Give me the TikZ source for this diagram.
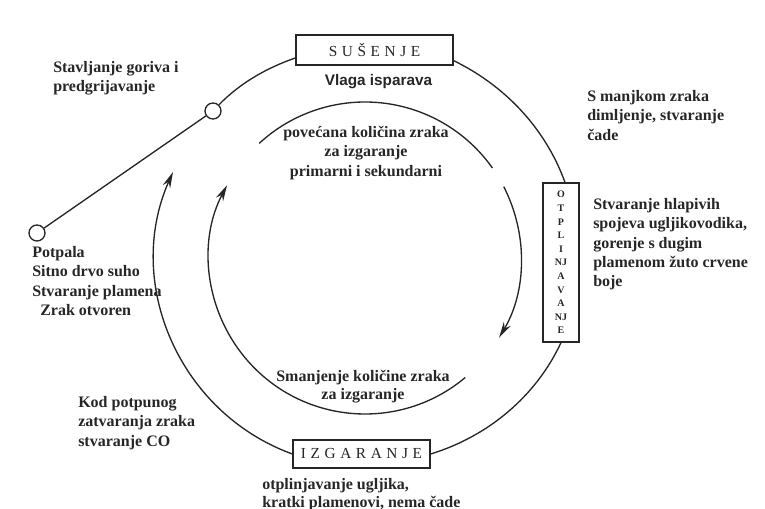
\documentclass[tikz,border=0pt]{standalone}
\usepackage{fontspec}
\setmainfont{Liberation Serif}
\setsansfont{Liberation Sans}
\newfontfamily\razmak[LetterSpace=30]{Liberation Serif}
\usetikzlibrary{arrows.meta}

\tikzset{
  crta/.style={line width=1pt, draw=black!85},
  strelica/.style={crta, -{Stealth[length=12pt,width=6pt]}},
  faza/.style={crta, inner sep=0pt, fill=white, text=black!85, font=\razmak\fontsize{11.5}{13}\selectfont},
  tocka/.style={crta, circle, fill=white, inner sep=0pt, minimum size=12pt},
  opis/.style={inner sep=0pt, anchor=north west, align=left, text=black!85,
    font=\bfseries\fontsize{12}{14.5}\selectfont},
}

\begin{document}
\begin{tikzpicture}[x=0.75pt,y=0.75pt]
\useasboundingbox (0,0) rectangle (765,509);

% centri krugova
\coordinate (c) at (365,251);
\coordinate (izlaz) at (173,337);

% Faze
\node[faza, minimum width=117.75pt, minimum height=22.5pt] (susenje) at (374.5,459) {SUŠENJE};
\node[faza, minimum width=102.75pt, minimum height=21pt] (izgaranje) at (361.5,55) {IZGARANJE};
\node[crta, draw, inner sep=0pt, minimum width=27pt, minimum height=119.25pt, align=center,
  text=black!85, font=\bfseries\fontsize{7.5}{10.2}\selectfont] (otplinjavanje) at (561,246.5)
  {O\\T\\P\\L\\I\\NJ\\A\\V\\A\\NJ\\E};

% Kruzici
\node[tocka] (potpala) at (37,276) {};
\node[tocka] (gorivo) at (213,398) {};

%Straight Lines
\draw[crta] (potpala) -- (gorivo);
%Curve Lines (vanjski krug)
\draw[crta] (gorivo) to[out=46,in=199,looseness=0.86] ([yshift=-6pt]susenje.west);
\draw[crta] ([yshift=-8pt]susenje.east) to[out=-26,in=110,looseness=0.89] ([xshift=3pt]otplinjavanje.north);
\draw[crta] (otplinjavanje.south) to[out=-115,in=17,looseness=0.89] (izgaranje.east);
\draw[strelica] (izgaranje.west) to[out=160,in=-114,looseness=1.01] (izlaz);

%Curve Lines (unutarnji krug)
\draw[crta] ([shift={(132.7:156)}]c) arc[start angle=132.7,end angle=35.2,radius=156];
\draw[strelica] ([shift={(27.2:156)}]c) arc[start angle=27.2,end angle=-30.7,radius=156];
\draw[strelica] ([shift={(-50:156)}]c) arc[start angle=-50,end angle=-207.8,radius=156];

% Text Node
\node[text=black!85, inner sep=0pt, font=\sffamily\bfseries\fontsize{11.5}{13}\selectfont] (vlaga) at (378.5,427) {Vlaga isparava};
% Text Node
\node[opis] (stavljanje) at (53,448) {Stavljanje goriva i\\predgrijavanje};
% Text Node
\node[opis] (opispotpale) at (32,263) {Potpala\\Sitno drvo suho\\Stvaranje plamena\\\hspace*{6pt}Zrak otvoren};
% Text Node
\node[opis] (manjak) at (587,419) {S manjkom zraka\\dimljenje, stvaranje\\čade};
% Text Node
\node[opis] (hlapivi) at (593,311) {Stvaranje hlapivih\\spojeva ugljikovodika,\\gorenje s dugim\\plamenom žuto crvene\\boje};
% Text Node
\node[opis] (zatvaranje) at (78,113) {Kod potpunog\\zatvaranja zraka\\stvaranje CO};
% Text Node
\node[opis, font=\bfseries\fontsize{12}{13.5}\selectfont] (ugljik) at (262,31) {otplinjavanje ugljika,\\kratki plamenovi, nema čade};
% Text Node
\node[opis, anchor=north, align=center] (povecana) at (366,383) {povećana količina zraka\\za izgaranje\\primarni i sekundarni};
% Text Node
\node[opis, anchor=north, align=center, font=\bfseries\fontsize{12}{13.5}\selectfont] (smanjenje) at (363,139) {Smanjenje količine zraka\\za izgaranje};

\end{tikzpicture}
\end{document}
